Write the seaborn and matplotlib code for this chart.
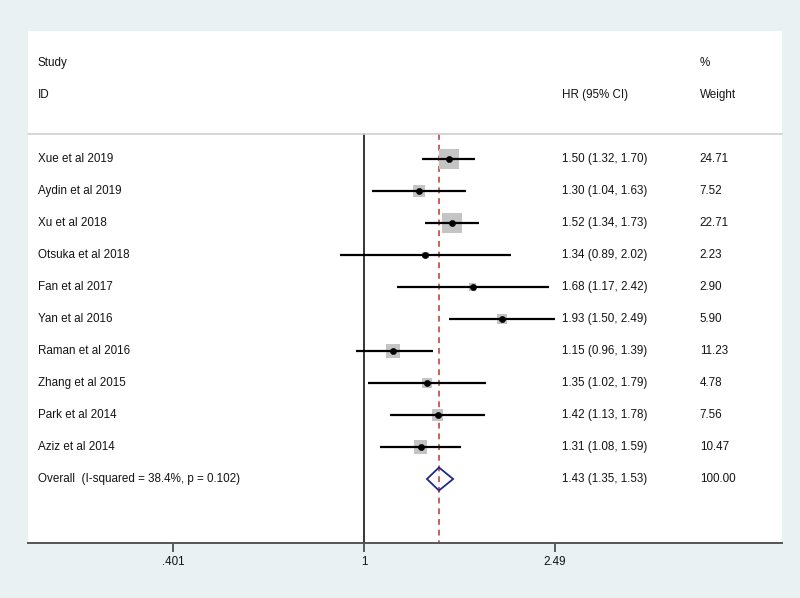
import numpy as np
import pandas as pd
import matplotlib
matplotlib.use("Agg")
import matplotlib.pyplot as plt
import seaborn as sns

# study data
studies = ["Xue et al 2019", "Aydin et al 2019", "Xu et al 2018", "Otsuka et al 2018",
           "Fan et al 2017", "Yan et al 2016", "Raman et al 2016", "Zhang et al 2015",
           "Park et al 2014", "Aziz et al 2014"]
hr = [1.50, 1.30, 1.52, 1.34, 1.68, 1.93, 1.15, 1.35, 1.42, 1.31]
lo = [1.32, 1.04, 1.34, 0.89, 1.17, 1.50, 0.96, 1.02, 1.13, 1.08]
hi = [1.70, 1.63, 1.73, 2.02, 2.42, 2.49, 1.39, 1.79, 1.78, 1.59]
weight = [24.71, 7.52, 22.71, 2.23, 2.90, 5.90, 11.23, 4.78, 7.56, 10.47]

overall_label = "Overall  (I-squared = 38.4%, p = 0.102)"
overall_hr, overall_lo, overall_hi = 1.43, 1.35, 1.53
tick_vals = [0.401, 1, 2.49]
tick_labels = [".401", "1", "2.49"]

df = pd.DataFrame({"study": studies, "hr": hr, "lo": lo, "hi": hi, "weight": weight})
df["row"] = np.arange(len(df))

sns.set_style("white")
plt.rcParams["font.family"] = ["Liberation Sans", "DejaVu Sans"]

bg = "#e9f1f3"
fig = plt.figure(figsize=(8, 5.98), dpi=100, facecolor=bg)
ax = fig.add_axes([28 / 800, (598 - 543) / 598, 754 / 800, (543 - 31) / 598])
ax.set_facecolor("white")

ax.set_xscale("log")
ax.set_xlim(0.2005, 7.37)
ybot = 12.0
ax.set_ylim(ybot, -4)

n = len(df)
sep_y = -0.78

# reference lines
ax.plot([1, 1], [sep_y, ybot], color="black", lw=1.1, zorder=1)
ax.plot([overall_hr, overall_hr], [sep_y, ybot], color="#c8605a", lw=1.4,
        ls=(0, (3, 2.5)), zorder=1)

# weight squares
sizes = (15 * np.sqrt(df["weight"] / max(weight))) ** 2
ax.scatter(df["hr"], df["row"], s=sizes, marker="s", color="#c4c4c4", lw=0, zorder=2)

# confidence intervals
ax.hlines(df["row"], df["lo"], df["hi"], color="black", lw=1.6, zorder=3)
sns.scatterplot(data=df, x="hr", y="row", ax=ax, color="black", s=20,
                marker="o", edgecolor="black", zorder=4, legend=False)

# overall diamond
oy = n
dh = 0.36
ax.fill([overall_lo, overall_hr, overall_hi, overall_hr, overall_lo],
        [oy, oy - dh, oy, oy + dh, oy], facecolor="none", edgecolor="#1f2a8c",
        lw=1.3, zorder=4)

# text columns
tr = ax.get_yaxis_transform()
fs = 8.4
tc = "#141414"
x_id, x_hr, x_w = 0.013, 0.708, 0.891
kw = dict(transform=tr, fontsize=fs, va="center", color=tc)
ax.text(x_id, -3, "Study", **kw)
ax.text(x_id, -2, "ID", **kw)
ax.text(x_hr, -2, "HR (95% CI)", **kw)
ax.text(x_w, -3, "%", **kw)
ax.text(x_w, -2, "Weight", **kw)
ax.plot([0, 1], [sep_y, sep_y], transform=tr, color="#cfcfcf", lw=1.2, clip_on=False)

for _, r in df.iterrows():
    ax.text(x_id, r["row"], r["study"], **kw)
    ax.text(x_hr, r["row"], f"{r['hr']:.2f} ({r['lo']:.2f}, {r['hi']:.2f})", **kw)
    ax.text(x_w, r["row"], f"{r['weight']:.2f}", **kw)

ax.text(x_id, oy, overall_label, **kw)
ax.text(x_hr, oy, f"{overall_hr:.2f} ({overall_lo:.2f}, {overall_hi:.2f})", **kw)
ax.text(x_w, oy, "100.00", **kw)

# axis styling
for s in ["top", "left", "right"]:
    ax.spines[s].set_visible(False)
ax.spines["bottom"].set_color("#555555")
ax.spines["bottom"].set_linewidth(1.4)
ax.set_yticks([])
ax.set_xticks(tick_vals)
ax.set_xticklabels(tick_labels, color=tc)
ax.xaxis.set_minor_locator(matplotlib.ticker.NullLocator())
ax.tick_params(axis="x", direction="out", length=6.5, width=1.1, color="#333333",
               labelsize=fs, pad=3, bottom=True)
ax.set_xlabel("")
ax.set_ylabel("")

fig.savefig("out.png", dpi=100, facecolor=bg)
